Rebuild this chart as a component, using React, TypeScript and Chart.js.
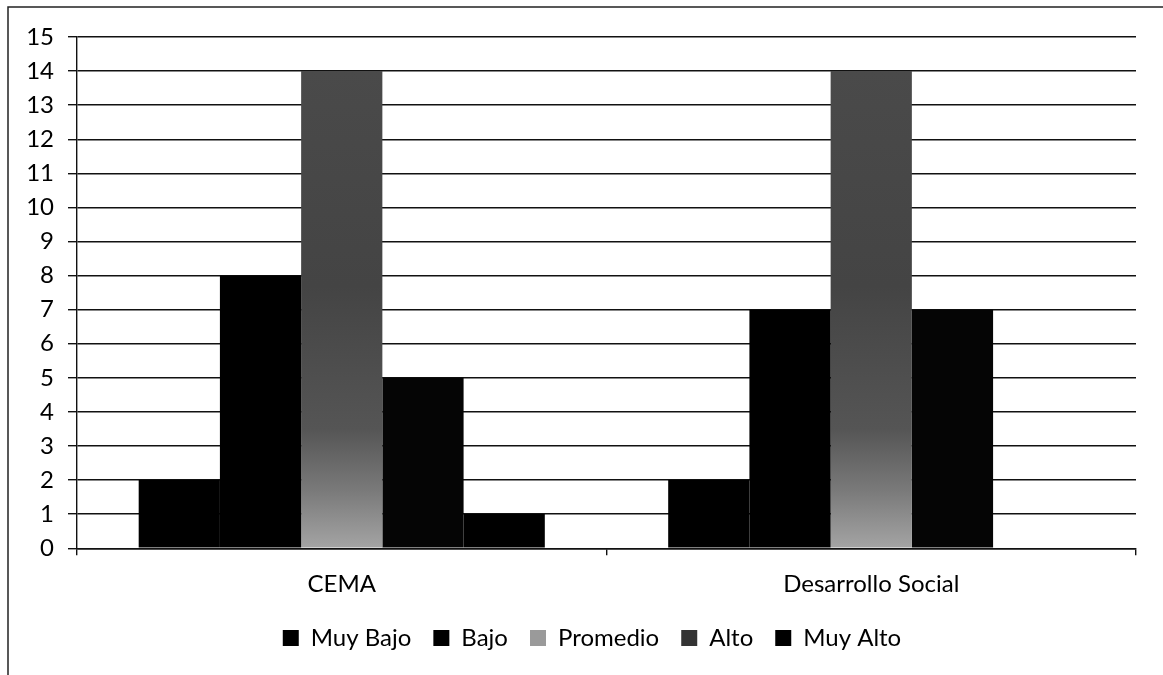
import React, { useEffect, useRef } from "react";
import { Chart, registerables } from "chart.js";

Chart.register(...registerables);

const categories = ["CEMA", "Desarrollo Social"];
const seriesNames = ["Muy Bajo", "Bajo", "Promedio", "Alto", "Muy Alto"];
const muyBajo = [2, 2];
const bajo = [8, 7];
const promedio = [14, 14];
const alto = [5, 7];
const muyAlto = [1, 0];
const yMin = 0;
const yMax = 15;

const FONT = "Lato, 'Open Sans', sans-serif";

const framePlugin = {
  id: "frame",
  beforeDraw(chart: any) {
    const { ctx, width, height } = chart;
    ctx.save();
    ctx.fillStyle = "#ffffff";
    ctx.fillRect(0, 0, width, height);
    ctx.strokeStyle = "#222222";
    ctx.lineWidth = 1.5;
    ctx.beginPath();
    ctx.moveTo(8, height);
    ctx.lineTo(8, 7);
    ctx.lineTo(width, 7);
    ctx.stroke();
    ctx.restore();
  },
  afterLayout(chart: any) {
    const lg = chart.legend;
    if (lg) {
      lg.left += 24;
      lg.right += 24;
      lg.top -= 10;
      lg.bottom -= 10;
    }
  },
};

function promedioFill(context: any) {
  const chart = context.chart;
  const { ctx, chartArea } = chart;
  if (!chartArea) return "#555555";
  const yScale = chart.scales.y;
  const top = yScale.getPixelForValue(14);
  const bottom = yScale.getPixelForValue(0);
  const g = ctx.createLinearGradient(0, top, 0, bottom);
  g.addColorStop(0, "#4a4a4a");
  g.addColorStop(0.45, "#444444");
  g.addColorStop(0.75, "#555555");
  g.addColorStop(0.88, "#7a7a7a");
  g.addColorStop(1, "#a4a4a4");
  return g;
}

export default function App() {
  const ref = useRef<HTMLCanvasElement>(null);
  useEffect(() => {
    if (!ref.current) return;
    const values = [muyBajo, bajo, promedio, alto, muyAlto];
    const colors: any[] = ["#000000", "#000000", promedioFill, "#050505", "#000000"];
    const legendColors = ["#000000", "#000000", "#9a9a9a", "#333333", "#000000"];
    const chart = new Chart(ref.current, {
      type: "bar",
      data: {
        labels: categories,
        datasets: seriesNames.map((name, i) => ({
          label: name,
          data: values[i],
          backgroundColor: colors[i],
          borderWidth: 0,
          categoryPercentage: 0.767,
          barPercentage: 1.0,
        })),
      },
      options: {
        responsive: false,
        animation: false,
        devicePixelRatio: 1,
        layout: { padding: { left: 0, right: 27, top: 37, bottom: 5 } },
        plugins: {
          tooltip: { enabled: false },
          legend: {
            position: "bottom",
            labels: {
              color: "#000000",
              font: { family: FONT, size: 24 },
              boxWidth: 16,
              boxHeight: 16,
              padding: 22,
              generateLabels: (chart: any) =>
                chart.data.datasets.map((ds: any, i: number) => ({
                  text: ds.label,
                  fillStyle: legendColors[i],
                  strokeStyle: legendColors[i],
                  lineWidth: 0,
                  hidden: false,
                  datasetIndex: i,
                  fontColor: "#000000",
                })),
            },
          },
        },
        scales: {
          y: {
            min: yMin,
            max: yMax,
            ticks: {
              stepSize: 1,
              color: "#000000",
              font: { family: FONT, size: 24 },
              padding: 14,
            },
            grid: { color: "#111111", lineWidth: 1.4, tickLength: 9 },
            border: { display: true, color: "#111111", width: 1.4 },
            afterFit: (scale: any) => {
              scale.width = 77;
            },
          },
          x: {
            offset: true,
            ticks: {
              color: "#000000",
              font: { family: FONT, size: 24 },
              padding: 15,
            },
            grid: {
              drawOnChartArea: false,
              drawTicks: true,
              tickLength: 7,
              color: "#111111",
              lineWidth: 1.4,
              offset: true,
            },
            border: { display: true, color: "#111111", width: 1.4 },
          },
        },
      },
      plugins: [framePlugin],
    });
    return () => chart.destroy();
  }, []);
  return (
    <div style={{ position: "fixed", left: 0, top: 0, width: 1163, height: 675, background: "#fff" }}>
      <canvas ref={ref} width={1163} height={675} style={{ width: 1163, height: 675, display: "block" }} />
    </div>
  );
}
